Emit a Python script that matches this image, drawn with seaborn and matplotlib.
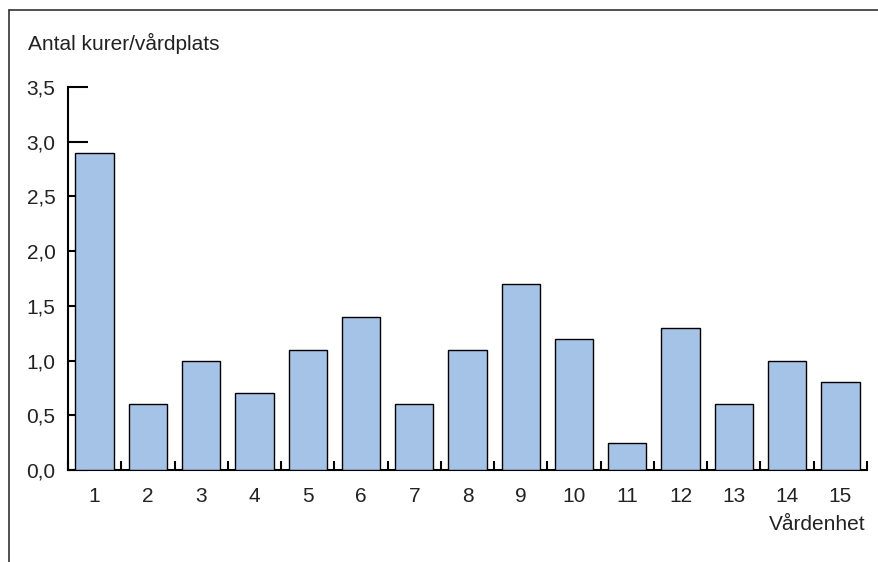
import numpy as np
import pandas as pd
import matplotlib
matplotlib.use("Agg")
import matplotlib.pyplot as plt
from matplotlib.lines import Line2D
from matplotlib.ticker import FuncFormatter, FixedLocator
import seaborn as sns

# --- data ---
enheter = ["1", "2", "3", "4", "5", "6", "7", "8", "9", "10", "11", "12", "13", "14", "15"]
kurer = [2.9, 0.6, 1.0, 0.7, 1.1, 1.4, 0.6, 1.1, 1.7, 1.2, 0.25, 1.3, 0.6, 1.0, 0.8]

df = pd.DataFrame({"enhet": enheter, "kurer": kurer})

sns.set_theme(style="white")
plt.rcParams["font.family"] = ["Liberation Sans", "DejaVu Sans"]

fs = 15
fig = plt.figure(figsize=(8.79, 5.62), dpi=100)
ax = fig.add_axes([68 / 879, 1 - 470 / 562, (867 - 68) / 879, (470 - 87) / 562])

sns.barplot(data=df, x="enhet", y="kurer", color="#a5c3e6", saturation=1,
            edgecolor="black", linewidth=1, width=0.72, zorder=3, ax=ax)

ax.set_xlim(-0.5, len(enheter) - 0.5)
ax.set_ylim(0, 3.5)
ax.set_yticks(np.arange(0, 3.51, 0.5))
ax.yaxis.set_major_formatter(FuncFormatter(lambda v, p: f"{v:.1f}".replace(".", ",")))

# boundary ticks between units
ax.xaxis.set_minor_locator(FixedLocator(np.arange(-0.5, len(enheter), 1.0)))
ax.tick_params(axis="x", which="major", length=0, pad=12, labelsize=fs, colors="#222222")
ax.tick_params(axis="x", which="minor", direction="in", length=6.5, width=1.5, color="black", bottom=True)
ax.tick_params(axis="y", which="major", direction="in", length=14.5, width=1.5, color="black",
               pad=9, labelsize=fs, labelcolor="#222222", left=True)

ax.set_xlabel("")
ax.set_ylabel("")
for s in ["top", "right"]:
    ax.spines[s].set_visible(False)
for s in ["left", "bottom"]:
    ax.spines[s].set_color("black")
    ax.spines[s].set_linewidth(1.5)

fig.text(28 / 879, 1 - 43 / 562, "Antal kurer/vårdplats", fontsize=fs, color="#222222",
         ha="left", va="center")
fig.text(866 / 879, 1 - 524 / 562, "Vårdenhet", fontsize=fs, color="#222222",
         ha="right", va="center")

# outer frame lines (top and left)
fig.add_artist(Line2D([9 / 879, 1], [1 - 10 / 562, 1 - 10 / 562], color="#333333", lw=1.2))
fig.add_artist(Line2D([9 / 879, 9 / 879], [0, 1 - 10 / 562], color="#333333", lw=1.2))

fig.savefig("out.png", dpi=100)
